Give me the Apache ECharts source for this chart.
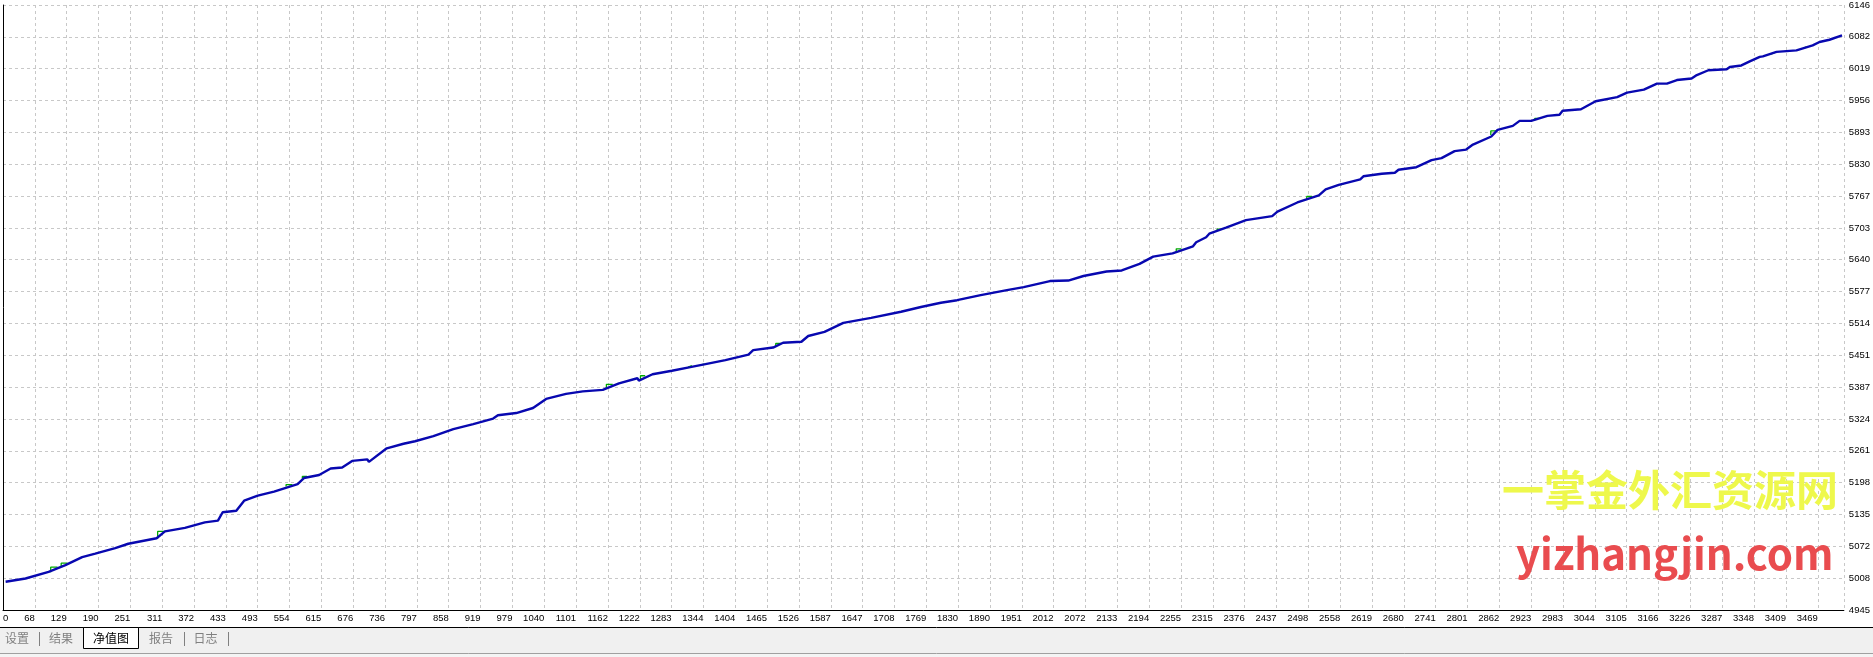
<!DOCTYPE html>
<html>
<head>
<meta charset="utf-8">
<script src="https://cdn.jsdelivr.net/npm/echarts@6/dist/echarts.min.js"></script>
<style>
html,body{margin:0;padding:0;background:#fff;}
#chart{width:1873px;height:657px;}
</style>
</head>
<body>
<div id="chart"></div>
<script>
// ---- data ----
const xTickLabels = ['0','68','129','190','251','311','372','433','493','554','615','676','736','797','858','919','979','1040','1101','1162','1222','1283','1344','1404','1465','1526','1587','1647','1708','1769','1830','1890','1951','2012','2072','2133','2194','2255','2315','2376','2437','2498','2558','2619','2680','2741','2801','2862','2923','2983','3044','3105','3166','3226','3287','3348','3409','3469'];
const yTickLabels = ['4945','5008','5072','5135','5198','5261','5324','5387','5451','5514','5577','5640','5703','5767','5830','5893','5956','6019','6082','6146'];

const trades = [5,43,87,119,151,176,214,239,293,309,347,385,410,419,445,460,486,517,562,574,603,625,647,666,695,698,732,764,786,821,859,
897,935,944,979,1011,1036,1074,1106,1144,1175,1210,1213,1239,1276,1311,1340,1378,1422,1431,1469,1488,1523,1536,1567,
1603,1656,1713,1751,
1789,1820,1865,1915,1947,1997,2032,2061,2105,2134,2168,2194,2231,2270,2276,2295,2301,2333,2371,2421,2431,2469,2510,2523,2548,2589,2595,2630,2655,
2662,2696,2725,2744,2769,2791,2804,2839,2851,2880,2893,2915,2946,2969,2975,3010,3038,3079,3098,3130,3155,3174,3193,3221,3231,3253,3288,3294,3316,3332,3351,3357,3383,3421,3452,3465,3484,3508];
const balance = [5001,5007.5,5020.5,5034,5050,5057,5068,5076.5,5087.5,5101,5108,5119,5122.5,5139,5142,5162,5172,5180,5195,5207,5213,5226,5228,5241,5244,5239,5266,5275,5280,5290,5304,
5314,5325,5331.5,5336,5346,5364,5374,5379,5382,5395,5405,5400.5,5413,5420,5427,5433,5441,5452,5461,5466,5475.5,5477.5,5489,5497,
5515,5525,5537,5546.5,
5555,5560,5570,5580,5586,5598,5599,5608,5617,5619,5632,5646.5,5653,5667,5675,5685,5692,5704,5719,5727,5736,5754,5768,5780,5789,5800,5806,5811,5813,
5819,5824,5838,5842,5856,5859,5869,5885,5898,5906,5916,5916,5926,5928,5936,5939,5955,5963,5972,5978,5990,5990,5997,6000,6007,6016.5,6018.5,6023,6026,6034,6043,6044,6053,6056,6066,6072.5,6077,6085.5];

// equity excursions (green) above the balance line: [tradeStart, tradeEnd, baseValue, topValue]
const equityBumps = [
  [91,104,5020,5030],[111,123,5032,5038],[295,313,5087,5101],[540,552,5190,5194],
  [571,580,5206,5210],[760,770,5274,5277],[1151,1163,5385,5393],[1216,1225,5401,5410],
  [1307,1314,5427,5430],[1333,1343,5432,5434],[1474,1485,5467,5474],[2238,2248,5655,5662],
  [2316,2324,5697,5701],[2487,2497,5760,5766],[2552,2557,5789,5791],[2838,2848,5888,5896],
  [2922,2931,5917,5921],[3370,3379,6048,6051],[3434,3440,6060,6063]
];

const tabNames = ['设置','结果','净值图','报告','日志'];
const watermarkCN = '一掌金外汇资源网';
const watermarkEN = 'yizhangjin.com';

// ---- build ----
const yMin = 4945, yMax = 6146;
const yStep = (yMax - yMin) / (yTickLabels.length - 1);
const xStep = 60.732;
const xMin = 0, xMax = 3511.5;

const balanceData = trades.map((t, i) => [t, balance[i]]);
const equityData = [];
equityBumps.forEach(b => {
  equityData.push([b[0], b[2]], [b[0], b[3]], [b[1], b[3]], null);
});

function labelAt(arr, v, min, step) {
  const k = (v - min) / step;
  const r = Math.round(k);
  if (Math.abs(k - r) > 0.01 || r < 0 || r >= arr.length) return '';
  return arr[r];
}

const chart = echarts.init(document.getElementById('chart'), null, {renderer: 'canvas'});
const gridCol = '#c8c8c8';
const fontFam = '"Liberation Sans", Arial, sans-serif';

const graphics = [];
// watermark
graphics.push({
  type: 'text', z: 50, silent: true,
  style: {
    text: watermarkCN, x: 1502, y: 490, verticalAlign: 'middle', align: 'left',
    font: 'bold 42px "Noto Sans CJK SC"', fill: '#eef84c',
    shadowColor: 'rgba(110,110,110,0.9)', shadowBlur: 1, shadowOffsetX: 2, shadowOffsetY: 3
  }
});
graphics.push({
  type: 'text', z: 50, silent: true,
  style: {
    text: watermarkEN, x: 1516, y: 554, verticalAlign: 'middle', align: 'left',
    font: 'bold 42px "Noto Sans CJK SC"', fill: '#e94c4f',
    shadowColor: 'rgba(110,110,110,0.9)', shadowBlur: 1, shadowOffsetX: 2, shadowOffsetY: 3
  }
});
// tab bar
graphics.push({type:'rect', z: 1, silent:true, shape:{x:0,y:627,width:1873,height:27}, style:{fill:'#f0f0f0'}});
graphics.push({type:'rect', z: 1, silent:true, shape:{x:0,y:654,width:1873,height:3}, style:{fill:'#f4f4f4'}});
graphics.push({type:'line', z: 2, silent:true, shape:{x1:0,y1:653.5,x2:1873,y2:653.5}, style:{stroke:'#a0a0a0',lineWidth:1}});
graphics.push({type:'line', z: 2, silent:true, shape:{x1:0,y1:627.5,x2:1873,y2:627.5}, style:{stroke:'#000',lineWidth:1}});
graphics.push({type:'rect', z: 3, silent:true, shape:{x:83.5,y:627.5,width:55,height:21}, style:{fill:'#fff',stroke:'#000',lineWidth:1}});
const tabCenters = [17, 61, 111, 161, 205.5];
tabNames.forEach((n, i) => {
  graphics.push({type:'text', z: 4, silent:true, style:{text:n, x:tabCenters[i], y:638, align:'center', verticalAlign:'middle',
    font:'12px "Noto Sans CJK SC"', fill: i === 2 ? '#000' : '#808080'}});
});
[39, 184, 228].forEach(x => {
  graphics.push({type:'line', z: 4, silent:true, shape:{x1:x+0.5,y1:632,x2:x+0.5,y2:646}, style:{stroke:'#808080',lineWidth:1}});
});

chart.setOption({
  animation: false,
  backgroundColor: '#fff',
  grid: {left: -3, right: 25, top: 1, bottom: 47, containLabel: false},
  xAxis: {
    type: 'value', min: xMin, max: xMax, interval: xStep,
    axisLine: {show: true, onZero: false, lineStyle: {color: '#000', width: 1}},
    axisTick: {show: false},
    splitLine: {show: true, lineStyle: {color: gridCol, type: [3, 3], width: 1}},
    axisLabel: {
      show: true, margin: 3, align: 'right', color: '#000', fontSize: 9.5, fontFamily: fontFam,
      showMaxLabel: false, alignMinLabel: 'left',
      formatter: v => labelAt(xTickLabels, v, xMin, xStep)
    }
  },
  yAxis: {
    type: 'value', position: 'right', min: yMin, max: yMax, interval: yStep,
    axisLine: {show: true, lineStyle: {color: '#000', width: 1}},
    axisTick: {show: false},
    splitLine: {show: true, lineStyle: {color: gridCol, type: [3, 3], width: 1}},
    axisLabel: {
      show: true, margin: 5, color: '#000', fontSize: 9.5, fontFamily: fontFam,
      formatter: v => labelAt(yTickLabels, v, yMin, yStep)
    }
  },
  series: [
    {
      type: 'line', name: 'equity', data: equityData, showSymbol: false, connectNulls: false,
      lineStyle: {color: '#00a800', width: 1.3}, z: 2, silent: true
    },
    {
      type: 'line', name: 'balance', data: balanceData, showSymbol: false,
      lineStyle: {color: '#0808b0', width: 2.4}, z: 3, silent: true
    }
  ],
  graphic: graphics
});
</script>
</body>
</html>
